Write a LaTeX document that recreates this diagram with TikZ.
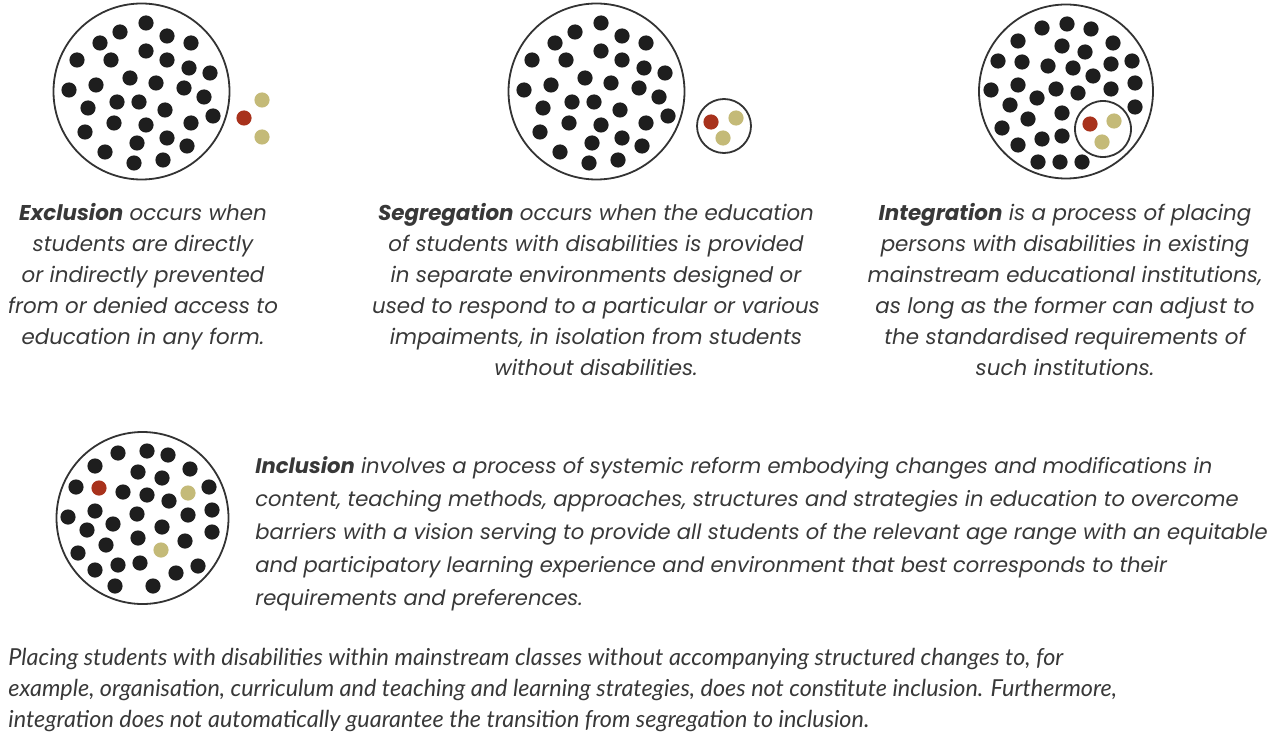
\documentclass[tikz,border=0pt]{standalone}
\usepackage{fontspec}
\setmainfont{Poppins}
\newfontfamily\notefont{Lato}
\usepackage{tikz}
\usetikzlibrary{positioning}
\definecolor{dotblack}{HTML}{1E1E1E}
\definecolor{dotred}{HTML}{A8321C}
\definecolor{dotolive}{HTML}{C4BA78}
\definecolor{inktext}{HTML}{383838}

\begin{document}
\begin{tikzpicture}[x=0.5pt, y=-0.5pt,
    ring/.style={draw=black!80, line width=0.9pt, circle, inner sep=0pt},
    caption/.style={align=center, text=inktext, font=\itshape\fontsize{10.7}{15.5}\selectfont, inner sep=0pt},
    para/.style={align=left, text=inktext, inner sep=0pt}]

\useasboundingbox (0,0) rectangle (1280,733);

% exclusion
\node[ring, minimum size=88pt] (c1) at (141.5,91.5) {};
\foreach \p in {(146,23),(120,32),(167,36),(100,43),(191,43),(146,51),(77,60),(111,60),
    (167,60),(189,68),(210,73),(130,78),(156,83),(96,85),(184,88),(69,90),(204,97),
    (117,102),(139,102),(88,108),(165,110),(213,116),(114,123),(146,125),(191,123),
    (85,132),(167,138),(137,143),(187,146),(105,152),(134,163),(163,160)}
    \fill[dotblack] \p circle[radius=3.8pt];
\fill[dotred] (244,118) circle[radius=3.8pt];
\fill[dotolive] (262,100) circle[radius=3.8pt];
\fill[dotolive] (262,137) circle[radius=3.8pt];

% segregation
\node[ring, minimum size=88pt] (c2) at (596.5,91.5) {};
\begin{scope}[shift={(455,0)}]
\foreach \p in {(146,23),(120,32),(167,36),(100,43),(191,43),(146,51),(77,60),(111,60),
    (167,60),(189,68),(210,73),(130,78),(156,83),(96,85),(184,88),(69,90),(204,97),
    (117,102),(139,102),(88,108),(165,110),(213,116),(114,123),(146,125),(191,123),
    (85,132),(167,138),(137,143),(187,146),(105,152),(134,163),(163,160)}
    \fill[dotblack] \p circle[radius=3.8pt];
\end{scope}
\node[ring, minimum size=27pt] (s2) at (724,126) {};
\fill[dotred] (711,122) circle[radius=3.8pt];
\fill[dotolive] (736,118) circle[radius=3.8pt];
\fill[dotolive] (723,138) circle[radius=3.8pt];

% integration
\node[ring, minimum size=87pt] (c3) at (1066,91.5) {};
\foreach \p in {(1067,24),(1042,28),(1091,29),(1018,41),(1113,43),(1062,46),(1085,52),
    (998,61),(1022,62),(1048,66),(1073,68),(1111,64),(1132,61),(1093,76),(1018,85),
    (991,90),(1056,89),(1078,93),(1111,89),(1135,83),(1037,98),(1010,105),(1062,113),
    (1135,107),(1028,119),(1002,128),(1062,136),(1042,139),(1018,145),(1038,162),
    (1060,162),(1082,162)}
    \fill[dotblack] \p circle[radius=3.8pt];
\node[ring, minimum size=28pt] (s3) at (1103,129) {};
\fill[dotred] (1090,124) circle[radius=3.8pt];
\fill[dotolive] (1114,121) circle[radius=3.8pt];
\fill[dotolive] (1102,142) circle[radius=3.8pt];

% inclusion
\node[ring, minimum size=86pt] (c4) at (142.5,518) {};
\foreach \p in {(147,451),(118,453),(168,455),(95,466),(138,472),(190,469),(162,478),
    (76,487),(123,492),(147,495),(169,501),(209,487),(68,517),(95,511),(137,514),
    (188,515),(212,510),(87,530),(113,524),(162,527),(212,532),(138,538),(106,545),
    (185,541),(78,553),(118,565),(140,563),(95,570),(198,566),(176,573),(115,586),
    (153,586)}
    \fill[dotblack] \p circle[radius=3.8pt];
\fill[dotred] (99,488) circle[radius=3.8pt];
\fill[dotolive] (188,493) circle[radius=3.8pt];
\fill[dotolive] (161,550) circle[radius=3.8pt];

% captions
\node[caption, anchor=north] (t1) at (143,203) {\textbf{Exclusion} occurs when\\
    students are directly\\ or indirectly prevented\\ from or denied access to\\
    education in any form.};
\node[caption, anchor=north] (t2) at (596,203) {\textbf{Segregation} occurs when the education\\
    of students with disabilities is provided\\ in separate environments designed or\\
    used to respond to a particular or various\\ impaiments, in isolation from students\\
    without disabilities.};
\node[caption, anchor=north] (t3) at (1065,203) {\textbf{Integration} is a process of placing\\
    persons with disabilities in existing\\ mainstream educational institutions,\\
    as long as the former can adjust to\\ the standardised requirements of\\
    such institutions.};
\node[para, anchor=north west, font=\itshape\fontsize{10.55}{16.5}\selectfont] (t4) at (255,456)
    {\textbf{Inclusion} involves a process of systemic reform embodying changes and modifications in\\
    content, teaching methods, approaches, structures and strategies in education to overcome\\
    barriers with a vision serving to provide all students of the relevant age range with an equitable\\
    and participatory learning experience and environment that best corresponds to their\\
    requirements and preferences.};
\node[para, anchor=north west, font=\notefont\itshape\fontsize{11.7}{15.5}\selectfont] (t5) at (8,648)
    {Placing students with disabilities within mainstream classes without accompanying structured changes to, for\\
    example, organisation, curriculum and teaching and learning strategies, does not constitute inclusion. Furthermore,\\
    integration does not automatically guarantee the transition from segregation to inclusion.};

\end{tikzpicture}
\end{document}
